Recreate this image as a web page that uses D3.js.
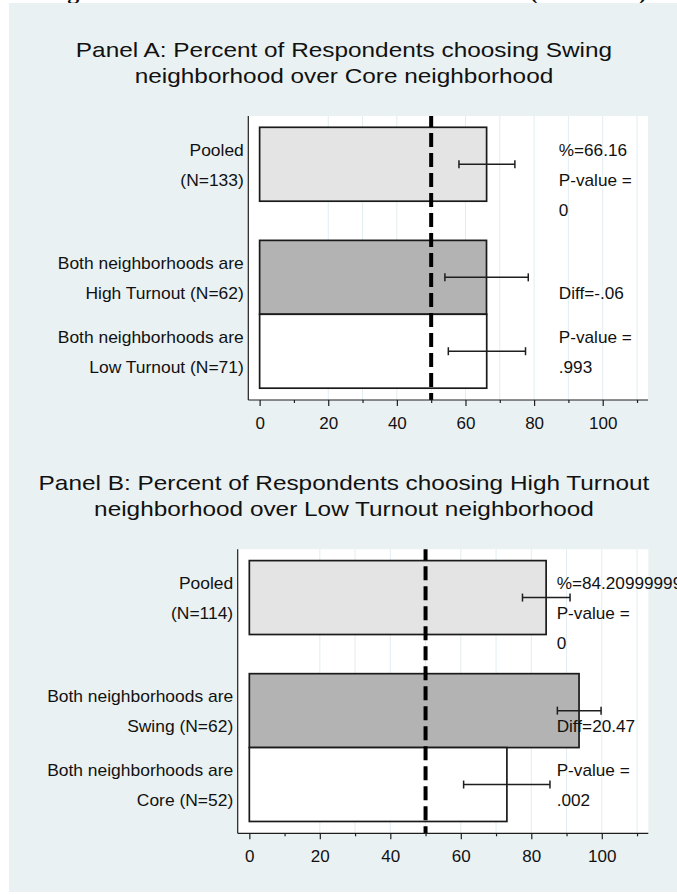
<!DOCTYPE html>
<html>
<head>
<meta charset="utf-8">
<script src="https://cdn.jsdelivr.net/npm/d3@7"></script>
<style>
  html, body { margin: 0; padding: 0; background: #ffffff; }
  svg { display: block; }
  text { font-family: "Liberation Sans", Arial, Helvetica, sans-serif; fill: #111; }
</style>
</head>
<body>
<svg id="chart" width="677" height="895"></svg>
<script>
// ---- data -------------------------------------------------------------
const xMajorTicks = [0, 20, 40, 60, 80, 100];
const xMinorTicks = [10, 30, 50, 70, 90, 110];
const gridValues = [20, 30, 40, 50, 60, 70, 80, 90, 100, 110];
const referenceValue = 50;

// Panel A
const titleA = ["Panel A: Percent of Respondents choosing Swing",
                "neighborhood over Core neighborhood"];
const categoriesA = [["Pooled", "(N=133)"],
                     ["Both neighborhoods are", "High Turnout (N=62)"],
                     ["Both neighborhoods are", "Low Turnout (N=71)"]];
const valuesA = [66.16, 66.13, 66.19];
const ciLowA = [58.1, 54.0, 55.0];
const ciHighA = [74.4, 78.3, 77.5];
const pooledPA = "0";
const diffA = "-.06";
const diffPA = ".993";

// Panel B
const titleB = ["Panel B: Percent of Respondents choosing High Turnout",
                "neighborhood over Low Turnout neighborhood"];
const categoriesB = [["Pooled", "(N=114)"],
                     ["Both neighborhoods are", "Swing (N=62)"],
                     ["Both neighborhoods are", "Core (N=52)"]];
const valuesB = [84.20999999, 93.55, 73.08];
const ciLowB = [77.5, 87.4, 60.8];
const ciHighB = [91.0, 99.8, 85.3];
const pooledPB = "0";
const diffB = "20.47";
const diffPB = ".002";

const barFills = ["#e4e4e4", "#b3b3b3", "#ffffff"];

// ---- helpers ----------------------------------------------------------
// widen glyphs horizontally by a factor (the graph font runs wide)
function widen(sel, f) {
  sel.each(function () {
    const n = this.getComputedTextLength();
    if (n > 0) {
      d3.select(this).attr("textLength", n * f).attr("lengthAdjust", "spacingAndGlyphs");
    }
  });
  return sel;
}

// ---- layout -----------------------------------------------------------
const svg = d3.select("#chart");
const W = 677, H = 895;

// page heading (runs off the top edge)
svg.append("text").attr("x", 46).attr("y", -1)
  .style("font-family", "'Liberation Serif', 'Times New Roman', serif")
  .style("font-weight", "bold").style("font-size", "24px")
  .text("Figure 3: Results");
svg.append("text").attr("x", 647).attr("y", -1).attr("text-anchor", "end")
  .style("font-family", "'Liberation Serif', 'Times New Roman', serif")
  .style("font-weight", "bold").style("font-size", "24px")
  .text("(continued)");

// graph region background
svg.append("rect").attr("x", 9).attr("y", 3).attr("width", W - 9).attr("height", 889)
  .attr("fill", "#eaf1f3");

const slotPos = [0, 1.53, 2.53];   // vertical position of each bar (in bar heights)
const yDomain = [-0.653, 3.19];
const xDomain = [-3.3, 113.2];

function drawPanel(cfg) {
  const g = svg.append("g");
  const x = d3.scaleLinear().domain(xDomain).range([cfg.left, cfg.right]);
  const y = d3.scaleLinear().domain(yDomain).range([cfg.top, cfg.bottom]);
  const bandH = y(0.5) - y(-0.5);

  // title
  cfg.title.forEach((t, i) => {
    const tt = g.append("text").attr("x", 344).attr("y", cfg.titleY + i * 25.5)
      .attr("text-anchor", "middle").style("font-size", "21px").text(t);
    widen(tt, 1.16);
  });

  // plot region
  g.append("rect").attr("x", cfg.left).attr("y", cfg.top)
    .attr("width", cfg.right - cfg.left).attr("height", cfg.bottom - cfg.top)
    .attr("fill", "#ffffff");

  g.selectAll("line.grid").data(gridValues).join("line")
    .attr("class", "grid")
    .attr("x1", d => x(d)).attr("x2", d => x(d))
    .attr("y1", cfg.top).attr("y2", cfg.bottom)
    .attr("stroke", "#e3edf0").attr("stroke-width", 1);

  // bars
  g.selectAll("rect.bar").data(cfg.values).join("rect")
    .attr("class", "bar")
    .attr("x", x(0))
    .attr("y", (d, i) => y(slotPos[i] - 0.5))
    .attr("width", d => x(d) - x(0))
    .attr("height", bandH)
    .attr("fill", (d, i) => barFills[i])
    .attr("stroke", "#1a1a1a").attr("stroke-width", 1.7);

  // reference line at 50
  g.append("line")
    .attr("x1", x(referenceValue)).attr("x2", x(referenceValue))
    .attr("y1", cfg.top).attr("y2", cfg.bottom)
    .attr("stroke", "#000").attr("stroke-width", 4)
    .attr("stroke-dasharray", "14,6").attr("stroke-dashoffset", 3);

  // confidence intervals
  const ci = g.selectAll("g.ci").data(cfg.values.map((v, i) => ({
    lo: cfg.ciLow[i], hi: cfg.ciHigh[i], yc: y(slotPos[i])
  }))).join("g").attr("class", "ci");
  ci.append("line").attr("x1", d => x(d.lo)).attr("x2", d => x(d.hi))
    .attr("y1", d => d.yc).attr("y2", d => d.yc)
    .attr("stroke", "#1e1e1e").attr("stroke-width", 1.5);
  ci.append("line").attr("x1", d => x(d.lo)).attr("x2", d => x(d.lo))
    .attr("y1", d => d.yc - 4).attr("y2", d => d.yc + 4)
    .attr("stroke", "#1e1e1e").attr("stroke-width", 1.5);
  ci.append("line").attr("x1", d => x(d.hi)).attr("x2", d => x(d.hi))
    .attr("y1", d => d.yc - 4).attr("y2", d => d.yc + 4)
    .attr("stroke", "#1e1e1e").attr("stroke-width", 1.5);

  // axes
  const axisMajor = d3.axisBottom(x).tickValues(xMajorTicks).tickSize(6)
    .tickPadding(11).tickFormat(d3.format("d"));
  const axisMinor = d3.axisBottom(x).tickValues(xMinorTicks).tickSize(3)
    .tickFormat("");
  const ax = g.append("g").attr("transform", `translate(0,${cfg.bottom})`).call(axisMajor);
  g.append("g").attr("transform", `translate(0,${cfg.bottom})`).call(axisMinor)
    .select(".domain").remove();
  ax.select(".domain").attr("d", `M${cfg.left},0H${cfg.right}`)
    .attr("stroke", "#1e1e1e").attr("stroke-width", 1.2);
  g.selectAll(".tick line").attr("stroke", "#1e1e1e").attr("stroke-width", 1.2);
  ax.selectAll(".tick text").style("font-size", "17px")
    .style("font-family", "'Liberation Sans', Arial, sans-serif").attr("fill", "#111");

  g.append("line").attr("x1", cfg.left).attr("x2", cfg.left)
    .attr("y1", cfg.top).attr("y2", cfg.bottom)
    .attr("stroke", "#1e1e1e").attr("stroke-width", 1.2);

  // category labels
  cfg.categories.forEach((lines, i) => {
    lines.forEach((t, j) => {
      const lt = g.append("text").attr("x", cfg.left - 4.5)
        .attr("y", y(slotPos[i]) - 8.5 + j * 30)
        .attr("text-anchor", "end").style("font-size", "17px").text(t);
      widen(lt, 1.025);
    });
  });

  // statistics annotations
  const noteX = x(87.2);
  const notes = [
    { slot: 0, line: 0, text: "%=" + cfg.values[0] },
    { slot: 0, line: 1, text: "P-value =" },
    { slot: 0, line: 2, text: cfg.pooledP },
    { slot: 1, line: 1, text: "Diff=" + cfg.diff },
    { slot: 2, line: 0, text: "P-value =" },
    { slot: 2, line: 1, text: cfg.diffP }
  ];
  const nt = g.selectAll("text.note").data(notes).join("text")
    .attr("class", "note")
    .attr("x", noteX)
    .attr("y", d => y(slotPos[d.slot]) - 8.5 + d.line * 30)
    .style("font-size", "17px").text(d => d.text);
  widen(nt, 1.01);
}

drawPanel({
  title: titleA, titleY: 57, categories: categoriesA, values: valuesA,
  ciLow: ciLowA, ciHigh: ciHighA, pooledP: pooledPA, diff: diffA, diffP: diffPA,
  left: 248.3, right: 648, top: 116, bottom: 400
});

drawPanel({
  title: titleB, titleY: 490, categories: categoriesB, values: valuesB,
  ciLow: ciLowB, ciHigh: ciHighB, pooledP: pooledPB, diff: diffB, diffP: diffPB,
  left: 237.7, right: 648.3, top: 549.3, bottom: 833.3
});
</script>
</body>
</html>
